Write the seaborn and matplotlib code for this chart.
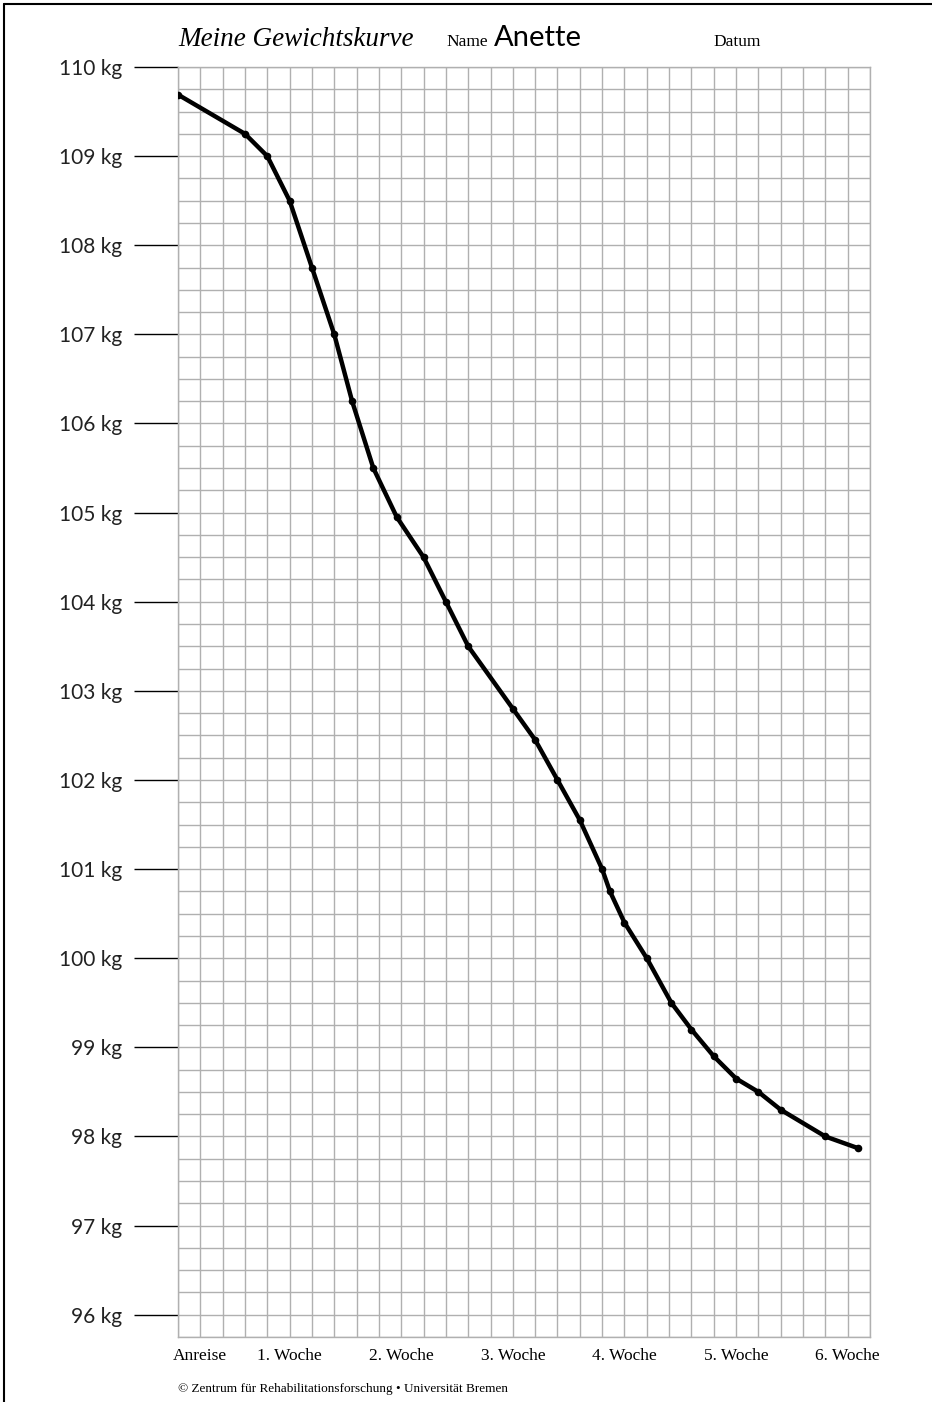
import numpy as np
import pandas as pd
import matplotlib
matplotlib.use("Agg")
import matplotlib.pyplot as plt
from matplotlib.lines import Line2D
import seaborn as sns

# weighing day (grid column) and weight in kg
days = [0, 3, 4, 5, 6, 7, 7.8, 8.75, 9.8, 11, 12, 13, 15, 16, 17, 18, 19, 19.35,
        20, 21, 22.1, 23, 24, 25, 26, 27, 29, 30.45]
weights = [109.69, 109.25, 109.0, 108.5, 107.75, 107.0, 106.25, 105.5, 104.95, 104.5,
           104.0, 103.5, 102.8, 102.45, 102.0, 101.55, 101.0, 100.75, 100.4, 100.0,
           99.5, 99.2, 98.9, 98.65, 98.5, 98.3, 98.0, 97.87]

week_pos = [1, 5, 10, 15, 20, 25, 30]
week_labels = ["Anreise", "1. Woche", "2. Woche", "3. Woche", "4. Woche", "5. Woche", "6. Woche"]
kg_ticks = list(range(96, 111))
kg_labels = [f"{k} kg" for k in kg_ticks]

W, H = 932, 1402
sns.set_style("white")
fig = plt.figure(figsize=(W / 100, H / 100), dpi=100)
ax = fig.add_axes([178 / W, 1 - 1337 / H, (870 - 178) / W, (1337 - 67) / H])

df = pd.DataFrame({"tag": days, "gewicht": weights})
sns.lineplot(data=df, x="tag", y="gewicht", ax=ax, color="black", linewidth=3.2,
             marker="o", markersize=5.5, markeredgewidth=0, zorder=3)

ax.set_xlim(0, 31)
ax.set_ylim(95.75, 110)

# grid paper
grid_col = "#b0b0b0"
ax.set_xticks(week_pos)
ax.set_xticklabels(week_labels, family="Liberation Serif", fontsize=12.5, color="black")
ax.set_xticks(np.arange(0, 32), minor=True)
ax.set_yticks(kg_ticks)
ax.set_yticklabels(kg_labels, family="Lato", fontsize=15, color="#222222")
ax.set_yticks(np.arange(95.75, 110.01, 0.25), minor=True)
ax.grid(which="both", color=grid_col, linewidth=1, zorder=0)
ax.tick_params(axis="x", which="both", length=0, pad=8)
ax.tick_params(axis="y", which="major", left=True, length=32, width=1, color="black", pad=8)
ax.tick_params(axis="y", which="minor", left=False, length=0)
for s in ax.spines.values():
    s.set_color(grid_col)
    s.set_linewidth(1)
ax.set_xlabel("")
ax.set_ylabel("")

# header
fig.text(178 / W, 1 - 46 / H, "Meine Gewichtskurve", family="Liberation Serif",
         style="italic", fontsize=19.5, ha="left", va="baseline", color="black")
fig.text(446 / W, 1 - 46 / H, "Name", family="Liberation Serif", fontsize=12.5,
         ha="left", va="baseline", color="black")
fig.text(494 / W, 1 - 46 / H, "Anette", family="Lato", fontsize=21,
         ha="left", va="baseline", color="black")
fig.text(713 / W, 1 - 46 / H, "Datum", family="Liberation Serif", fontsize=12.5,
         ha="left", va="baseline", color="black")
fig.text(178 / W, 1 - 1392 / H,
         "\u00a9 Zentrum f\u00fcr Rehabilitationsforschung \u2022 Universit\u00e4t Bremen",
         family="Liberation Serif", fontsize=9.5, ha="left", va="baseline", color="black")

# page frame (top and left edge)
fig.add_artist(Line2D([4 / W, 1], [1 - 4 / H, 1 - 4 / H], color="black", linewidth=1.5))
fig.add_artist(Line2D([4 / W, 4 / W], [0, 1 - 4 / H], color="black", linewidth=1.5))

fig.savefig("out.png", dpi=100)
